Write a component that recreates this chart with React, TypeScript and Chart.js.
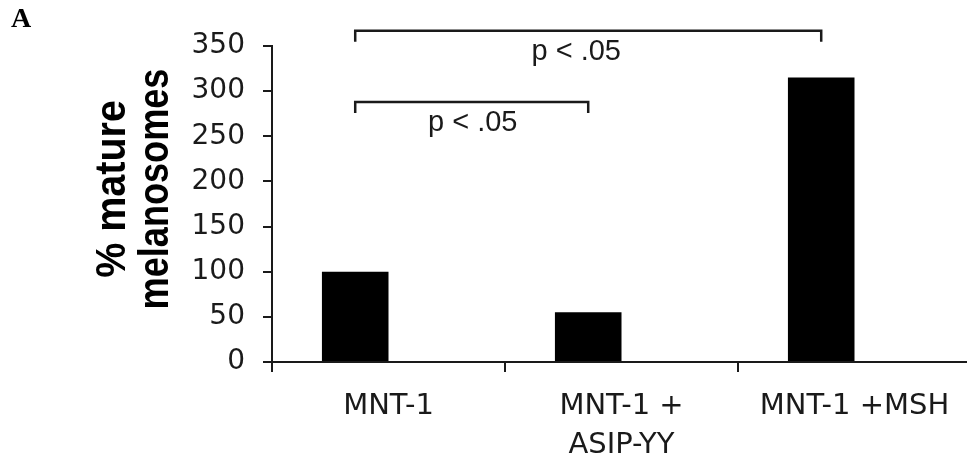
import React, { useEffect, useRef } from 'react';
import { Chart, registerables } from 'chart.js';

Chart.register(...registerables);

// ---- data ----
const categories: (string | string[])[] = ['MNT-1', ['MNT-1 +', 'ASIP-YY'], 'MNT-1 +MSH'];
const matureMelanosomes: number[] = [100, 55, 315];
const spacerSeries: (number | null)[] = [null, null, null];
const yMin = 0;
const yMax = 350;
const yStep = 50;
const yTitleLines: string[] = ['% mature', 'melanosomes'];
const panelLabel = 'A';
const bracketFrom: number[] = [0, 0];
const bracketTo: number[] = [2, 1];
const bracketLevel: number[] = [367, 288];
const bracketText: string[] = ['p < .05', 'p < .05'];

const INK = '#1a1a1a';

const annotationPlugin = {
  id: 'annotationPlugin',
  afterDraw(chart: any, _args: any, opts: any) {
    const ctx = chart.ctx as CanvasRenderingContext2D;
    const meta = chart.getDatasetMeta(0);
    const yScale = chart.scales.y;
    const area = chart.chartArea;
    ctx.save();
    // significance brackets
    ctx.strokeStyle = INK;
    ctx.lineWidth = 2.5;
    ctx.lineCap = 'butt';
    ctx.lineJoin = 'miter';
    ctx.fillStyle = INK;
    ctx.font = '29px "Liberation Sans", Arial, sans-serif';
    ctx.textAlign = 'center';
    ctx.textBaseline = 'alphabetic';
    for (let i = 0; i < bracketFrom.length; i++) {
      const x1 = meta.data[bracketFrom[i]].x;
      const x2 = meta.data[bracketTo[i]].x;
      const yy = yScale.getPixelForValue(bracketLevel[i]);
      ctx.beginPath();
      ctx.moveTo(x1, yy + 11);
      ctx.lineTo(x1, yy);
      ctx.lineTo(x2, yy);
      ctx.lineTo(x2, yy + 11);
      ctx.stroke();
      ctx.fillText(bracketText[i], (x1 + x2) / 2 + (opts.labelShift[i] || 0), yy + 29);
    }
    // y axis title (two lines, rotated)
    ctx.font = 'bold 42px "Liberation Sans", Arial, sans-serif';
    ctx.fillStyle = '#000';
    const cy = (area.top + area.bottom) / 2 - 15;
    const baselines = [area.left - 147, area.left - 104];
    const squeeze = [0.94, 0.86];
    for (let i = 0; i < yTitleLines.length; i++) {
      ctx.save();
      ctx.translate(baselines[i], cy);
      ctx.rotate(-Math.PI / 2);
      ctx.scale(squeeze[i], 1);
      ctx.fillText(yTitleLines[i], 0, 0);
      ctx.restore();
    }
    ctx.restore();
  },
};

export default function App() {
  const canvasRef = useRef<HTMLCanvasElement | null>(null);

  useEffect(() => {
    if (!canvasRef.current) return;
    const chart = new Chart(canvasRef.current, {
      type: 'bar',
      data: {
        labels: categories,
        datasets: [
          {
            label: '% mature melanosomes',
            data: matureMelanosomes,
            backgroundColor: '#000',
            borderWidth: 0,
            categoryPercentage: 2 / 3.5,
            barPercentage: 1,
          },
          {
            label: 'spacer',
            data: spacerSeries,
            backgroundColor: 'rgba(0,0,0,0)',
            borderWidth: 0,
            categoryPercentage: 2 / 3.5,
            barPercentage: 1,
          },
        ],
      },
      options: {
        responsive: false,
        animation: false,
        devicePixelRatio: 1,
        layout: { padding: { top: 46, left: 0, right: 4, bottom: 0 } },
        plugins: {
          legend: { display: false },
          tooltip: { enabled: false },
          title: { display: false },
          annotationPlugin: { labelShift: [-12, 1] },
        } as any,
        scales: {
          x: {
            type: 'category',
            offset: true,
            grid: {
              offset: true,
              drawOnChartArea: false,
              drawTicks: true,
              tickLength: 10,
              color: INK,
              lineWidth: 2,
            },
            border: { display: true, color: INK, width: 2 },
            ticks: {
              color: INK,
              padding: 15,
              maxRotation: 0,
              autoSkip: false,
              font: { family: '"DejaVu Sans", Verdana, sans-serif', size: 29, lineHeight: 39 / 29 },
            },
          },
          y: {
            min: yMin,
            max: yMax,
            grid: {
              drawOnChartArea: false,
              drawTicks: true,
              tickLength: 9,
              color: INK,
              lineWidth: 2,
            },
            border: { display: true, color: INK, width: 2 },
            ticks: {
              stepSize: yStep,
              color: INK,
              padding: 18,
              font: { family: '"DejaVu Sans", Verdana, sans-serif', size: 28 },
            },
            afterFit: (scale: any) => {
              scale.width = 272;
            },
          },
        },
      },
      plugins: [annotationPlugin],
    });
    return () => chart.destroy();
  }, []);

  return (
    <div
      style={{
        position: 'fixed',
        left: 0,
        top: 0,
        width: 967,
        height: 461,
        overflow: 'hidden',
        background: '#fff',
      }}
    >
      <canvas ref={canvasRef} width={975} height={480} style={{ display: 'block', width: 975, height: 480 }} />
      <div
        style={{
          position: 'absolute',
          left: 11,
          top: 4,
          fontFamily: '"Liberation Serif", "Times New Roman", serif',
          fontWeight: 700,
          fontSize: '28px',
          lineHeight: '28px',
          color: '#000',
        }}
      >
        {panelLabel}
      </div>
    </div>
  );
}
